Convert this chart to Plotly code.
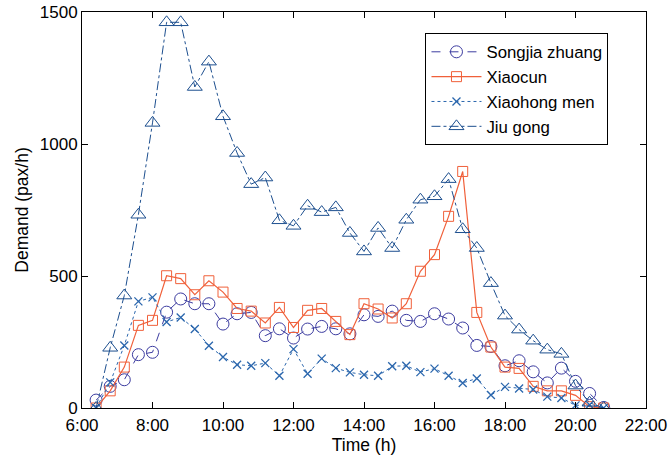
import plotly.graph_objects as go

time_h = [6.4, 6.8, 7.2, 7.6, 8.0, 8.4, 8.8, 9.2, 9.6, 10.0, 10.4, 10.8, 11.2, 11.6,
          12.0, 12.4, 12.8, 13.2, 13.6, 14.0, 14.4, 14.8, 15.2, 15.6, 16.0, 16.4, 16.8,
          17.2, 17.6, 18.0, 18.4, 18.8, 19.2, 19.6, 20.0, 20.4, 20.8]

songjia = [30, 82, 107, 202, 211, 363, 413, 395, 395, 318, 357, 362, 274, 300, 265, 299,
           309, 300, 281, 353, 347, 367, 332, 328, 357, 337, 303, 237, 233, 160, 179, 137,
           95, 151, 101, 55, 2]
xiaocun = [0, 65, 155, 313, 332, 501, 490, 429, 482, 439, 377, 367, 322, 381, 305, 370,
           377, 328, 278, 395, 375, 341, 395, 518, 581, 726, 896, 362, 231, 155, 150, 82,
           65, 65, 48, 5, 0]
xiaohong = [0, 97, 237, 404, 419, 326, 343, 299, 236, 193, 164, 160, 170, 122, 223, 130,
            187, 151, 135, 126, 122, 158, 160, 136, 149, 122, 95, 112, 49, 80, 74, 70,
            43, 38, 10, 12, 0]
jiugong = [0, 228, 426, 732, 1080, 1461, 1461, 1216, 1312, 1105, 966, 848, 873, 711, 690,
           766, 742, 760, 663, 593, 682, 606, 713, 789, 802, 867, 677, 606, 473, 350, 297,
           255, 221, 205, 85, 20, 0]

x_tickvals = [6, 8, 10, 12, 14, 16, 18, 20, 22]
x_ticktext = ["6:00", "8:00", "10:00", "12:00", "14:00", "16:00", "18:00", "20:00", "22:00"]
y_tickvals = [0, 500, 1000, 1500]

FONT = "Liberation Sans, Arial, Helvetica, sans-serif"

fig = go.Figure()
fig.add_trace(go.Scatter(
    x=time_h, y=songjia, name="Songjia zhuang", mode="lines+markers",
    line=dict(color="#3c3ca0", width=1, dash="dash"),
    marker=dict(symbol="circle-open", size=12, color="#3c3ca0", line=dict(width=1))))
fig.add_trace(go.Scatter(
    x=time_h, y=xiaocun, name="Xiaocun", mode="lines+markers",
    line=dict(color="#f0603a", width=1.2),
    marker=dict(symbol="square-open", size=10, color="#f0603a", line=dict(width=1))))
fig.add_trace(go.Scatter(
    x=time_h, y=xiaohong, name="Xiaohong men", mode="lines+markers",
    line=dict(color="#2a66ad", width=1, dash="dot"),
    marker=dict(symbol="x-thin-open", size=8, color="#2a66ad", line=dict(width=1.3, color="#2a66ad"))))
fig.add_trace(go.Scatter(
    x=time_h, y=jiugong, name="Jiu gong", mode="lines+markers",
    line=dict(color="#1d4f8f", width=1, dash="dashdot"),
    marker=dict(symbol="triangle-up-open", size=13, color="#1d4f8f", line=dict(width=1))))

axis_common = dict(
    showgrid=False, zeroline=False, showline=True, linecolor="black", linewidth=1,
    mirror="ticks", ticks="inside", ticklen=6, tickcolor="black", tickwidth=1,
    tickfont=dict(family=FONT, size=17, color="black"), automargin=False,
)

fig.update_layout(
    width=668, height=458,
    margin=dict(l=82, r=22, t=12, b=50),
    paper_bgcolor="white", plot_bgcolor="white",
    font=dict(family=FONT, color="black"),
    showlegend=True,
    legend=dict(
        x=0.609, y=0.946, xanchor="left", yanchor="top",
        bgcolor="white", bordercolor="black", borderwidth=1,
        font=dict(family=FONT, size=16.8, color="black"),
        itemwidth=50, tracegroupgap=0,
    ),
    xaxis=dict(range=[6, 22], tickvals=x_tickvals, ticktext=x_ticktext,
               ticklabelstandoff=2,
               title=dict(text="Time (h)", font=dict(family=FONT, size=17.5), standoff=2),
               **axis_common),
    yaxis=dict(range=[0, 1500], tickvals=y_tickvals,
               title=dict(text="Demand (pax/h)", font=dict(family=FONT, size=17.5), standoff=6),
               **axis_common),
)

fig.write_html("out.html")
